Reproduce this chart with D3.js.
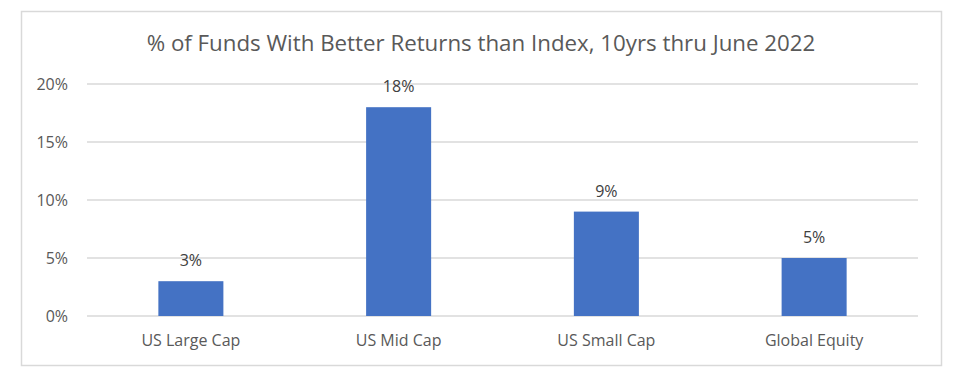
<!DOCTYPE html>
<html>
<head>
  <script src="https://d3js.org/d3.v7.min.js"></script>
  <style>
    body { margin: 0; background: #fff; font-family: "Open Sans", sans-serif; }
    .axis path, .axis line { display: none; }
    .axis text { fill: #595959; font-size: 16px; font-family: "Open Sans", sans-serif; }
    .grid line { stroke: #d9d9d9; stroke-width: 1.5; }
    .bar { fill: #4472c4; }
    .bar-label { fill: #404040; font-size: 16px; text-anchor: middle; }
    .chart-title { fill: #595959; font-size: 22.3px; text-anchor: middle; }
  </style>
</head>
<body>
  <div id="chart"></div>
  <script>
    const categories = ["US Large Cap", "US Mid Cap", "US Small Cap", "Global Equity"];
    const values = [0.03, 0.18, 0.09, 0.05];
    const yTicks = [0, 0.05, 0.10, 0.15, 0.20];
    const title = "% of Funds With Better Returns than Index, 10yrs thru June 2022";

    const W = 958, H = 377;
    const margin = {top: 84, right: 40, bottom: 61, left: 87};
    const width = W - margin.left - margin.right;
    const height = H - margin.top - margin.bottom;

    const root = d3.select("#chart").append("svg")
      .attr("width", W)
      .attr("height", H);

    root.append("rect")
      .attr("x", 21.5).attr("y", 11.5)
      .attr("width", 920).attr("height", 354)
      .attr("fill", "#fff")
      .attr("stroke", "#d9d9d9")
      .attr("stroke-width", 1.5);

    root.append("text")
      .attr("class", "chart-title")
      .attr("x", 481)
      .attr("y", 51)
      .text(title);

    const svg = root.append("g")
      .attr("transform", `translate(${margin.left},${margin.top})`);

    const x = d3.scaleBand()
      .domain(categories)
      .range([0, width])
      .paddingInner(0.687)
      .paddingOuter(0.3435);

    const y = d3.scaleLinear()
      .domain([0, 0.20])
      .range([height, 0]);

    // gridlines
    svg.append("g")
      .attr("class", "grid")
      .selectAll("line")
      .data(yTicks)
      .join("line")
        .attr("x1", 0)
        .attr("x2", width)
        .attr("y1", d => y(d))
        .attr("y2", d => y(d));

    svg.append("g")
      .attr("class", "axis y-axis")
      .attr("transform", "translate(-19,0)")
      .call(d3.axisLeft(y).tickValues(yTicks).tickSize(0).tickPadding(0).tickFormat(d3.format(".0%")));

    svg.append("g")
      .attr("class", "axis x-axis")
      .attr("transform", `translate(0,${height})`)
      .call(d3.axisBottom(x).tickSize(0).tickPadding(19));

    svg.selectAll(".bar")
      .data(values)
      .join("rect")
        .attr("class", "bar")
        .attr("x", (d, i) => x(categories[i]))
        .attr("y", d => y(d))
        .attr("width", x.bandwidth())
        .attr("height", d => height - y(d));

    svg.selectAll(".bar-label")
      .data(values)
      .join("text")
        .attr("class", "bar-label")
        .attr("x", (d, i) => x(categories[i]) + x.bandwidth() / 2)
        .attr("y", d => y(d) - 15)
        .text(d => d3.format(".0%")(d));
  </script>
</body>
</html>
